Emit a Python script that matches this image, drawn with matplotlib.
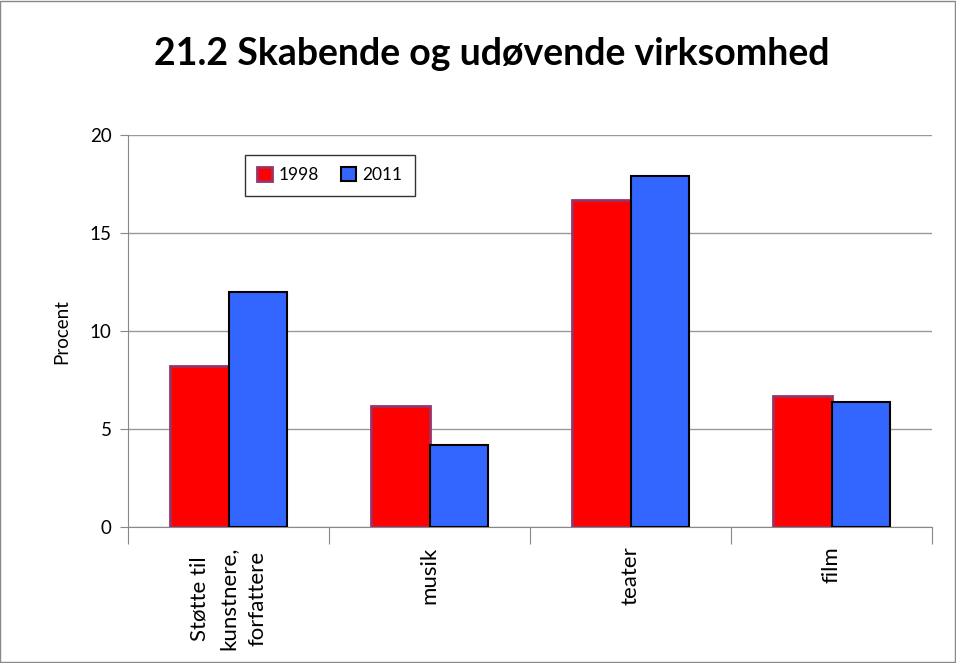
import matplotlib
matplotlib.use("Agg")
import matplotlib.pyplot as plt
import numpy as np
from matplotlib.patches import Rectangle

# data
categories = ["Støtte til\nkunstnere,\nforfattere", "musik", "teater", "film"]
years = ["1998", "2011"]
values_1998 = [8.2, 6.2, 16.7, 6.7]
values_2011 = [12.0, 4.2, 17.9, 6.4]
yticks = [0, 5, 10, 15, 20]

fig = plt.figure(figsize=(9.56, 6.63), dpi=100)
ax = fig.add_axes([0.134, 0.205, 0.841, 0.591])

x = np.arange(len(categories))
w = 0.29
ax.bar(x - w / 2, values_1998, w, color="#ff0000", edgecolor="#993366",
       linewidth=2, label=years[0], zorder=3)
ax.bar(x + w / 2, values_2011, w, color="#3366ff", edgecolor="black",
       linewidth=1.5, label=years[1], zorder=3)

ax.set_xlim(-0.5, len(categories) - 0.5)
ax.set_ylim(0, 20)
ax.set_yticks(yticks)
ax.set_yticklabels([str(t) for t in yticks], fontfamily="Lato", fontsize=13.5)
ax.yaxis.grid(True, color="#999999", linewidth=1, zorder=0)
ax.tick_params(axis="y", length=6, color="#888888", pad=6)

# ticks at category borders, labels at centers
ax.set_xticks(np.arange(len(categories) + 1) - 0.5)
ax.set_xticklabels([])
ax.tick_params(axis="x", which="major", length=12, color="#888888")
ax.set_xticks(x, minor=True)
labs = ax.set_xticklabels(categories, minor=True, rotation=90)
for t in labs:
    t.set_fontfamily("Lato")
    t.set_fontsize(16)
    t.set_multialignment("center")
    t.set_linespacing(1.55)
ax.tick_params(axis="x", which="minor", length=0, pad=14)

for s in ["top", "right"]:
    ax.spines[s].set_visible(False)
for s in ["left", "bottom"]:
    ax.spines[s].set_color("#888888")

ax.set_ylabel("Procent", fontfamily="Lato", fontsize=13.5, labelpad=14)

leg = ax.legend(loc="upper left", bbox_to_anchor=(0.1455, 0.949), ncol=2,
                frameon=True, fancybox=False, edgecolor="black",
                prop={"family": "Lato", "size": 12.5}, handlelength=0.85,
                handleheight=0.85, handletextpad=0.4, columnspacing=1.25,
                borderpad=0.7, borderaxespad=0)
leg.get_frame().set_linewidth(1)

fig.text(0.514, 0.918, "21.2 Skabende og udøvende virksomhed", ha="center",
         va="center", fontfamily="Lato", fontweight="bold", fontsize=27)

fig.patches.append(Rectangle((0.0005, 0.0008), 0.998, 0.998, transform=fig.transFigure,
                             fill=False, edgecolor="#888888", linewidth=1))

fig.savefig("out.png", dpi=100)
